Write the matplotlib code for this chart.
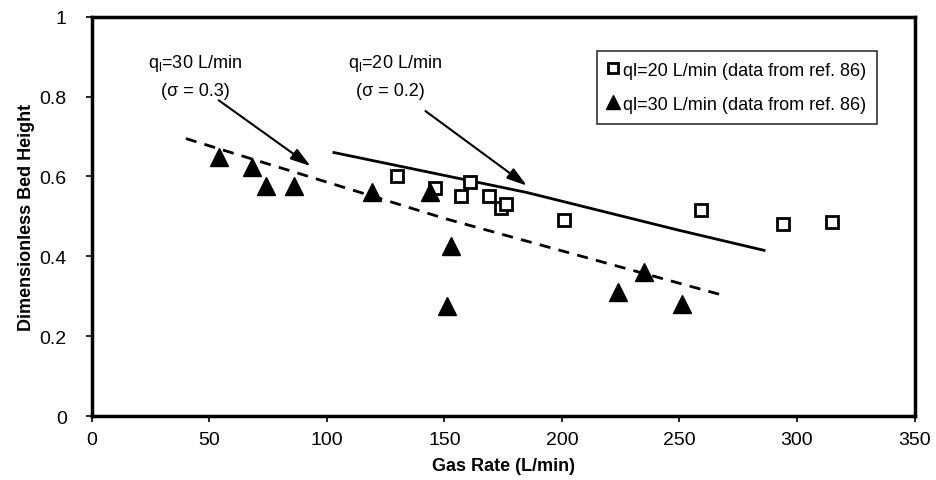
import matplotlib
matplotlib.use('Agg')
import matplotlib.pyplot as plt

plt.rcParams['font.family'] = ['Liberation Sans', 'DejaVu Sans']

# experimental data (ref. 86)
gas_q20 = [130, 146, 157, 161, 169, 174, 176, 201, 259, 294, 315]
bed_q20 = [0.60, 0.57, 0.55, 0.585, 0.55, 0.52, 0.53, 0.49, 0.515, 0.48, 0.485]
gas_q30 = [54, 68, 74, 86, 119, 144, 153, 151, 224, 235, 251]
bed_q30 = [0.65, 0.625, 0.575, 0.575, 0.56, 0.56, 0.425, 0.275, 0.31, 0.36, 0.28]

# model curves
model_x20 = [103, 185, 250, 286]
model_y20 = [0.66, 0.56, 0.465, 0.415]
model_x30 = [40, 150, 270]
model_y30 = [0.695, 0.495, 0.30]

fig = plt.figure(figsize=(9.37, 4.81), dpi=100)
ax = fig.add_axes([0.098, 0.133, 0.878, 0.83])

ax.plot(model_x20, model_y20, color='black', lw=2)
ax.plot(model_x30, model_y30, color='black', lw=2, ls=(0, (4, 3)))
ax.plot(gas_q20, bed_q20, ls='none', marker='s', ms=9, mfc='white', mec='black', mew=2,
        label='ql=20 L/min (data from ref. 86)')
ax.plot(gas_q30, bed_q30, ls='none', marker='^', ms=12.5, mfc='black', mec='black',
        label='ql=30 L/min (data from ref. 86)')

ax.set_xlim(0, 350)
ax.set_ylim(0, 1)
ax.set_xticks(range(0, 351, 50))
ax.set_yticks([0, 0.2, 0.4, 0.6, 0.8, 1])
ax.set_yticklabels(['0', '0.2', '0.4', '0.6', '0.8', '1'])
ax.tick_params(labelsize=14, length=4, width=1.2, direction='out')
ax.tick_params(axis='y', pad=14)
ax.tick_params(axis='x', pad=7)
for sp in ax.spines.values():
    sp.set_linewidth(2.5)

ax.set_xlabel('Gas Rate (L/min)', fontsize=13, fontweight='bold', labelpad=6)
ax.set_ylabel('Dimensionless Bed Height', fontsize=13, fontweight='bold', labelpad=3)

ax.text(44, 0.885, '$\\mathregular{q_l}$=30 L/min', fontsize=13, ha='center', va='center')
ax.text(44, 0.815, '(σ = 0.3)', fontsize=13, ha='center', va='center')
ax.text(129, 0.885, '$\\mathregular{q_l}$=20 L/min', fontsize=13, ha='center', va='center')
ax.text(127, 0.815, '(σ = 0.2)', fontsize=13, ha='center', va='center')

arrow = dict(arrowstyle='-|>,head_length=0.55,head_width=0.17', color='black', lw=1.5,
             mutation_scale=22)
ax.annotate('', xy=(94, 0.622), xytext=(53, 0.795), arrowprops=arrow)
ax.annotate('', xy=(186, 0.573), xytext=(141, 0.768), arrowprops=arrow)

leg = ax.legend(loc='upper right', bbox_to_anchor=(0.954, 0.915), fontsize=13, frameon=True,
                fancybox=False, edgecolor='black', handlelength=0.6, handletextpad=0.25,
                borderpad=0.6, labelspacing=0.95, markerscale=0.75, borderaxespad=0)
leg.get_frame().set_linewidth(1.2)

fig.savefig('out.png', dpi=100)
